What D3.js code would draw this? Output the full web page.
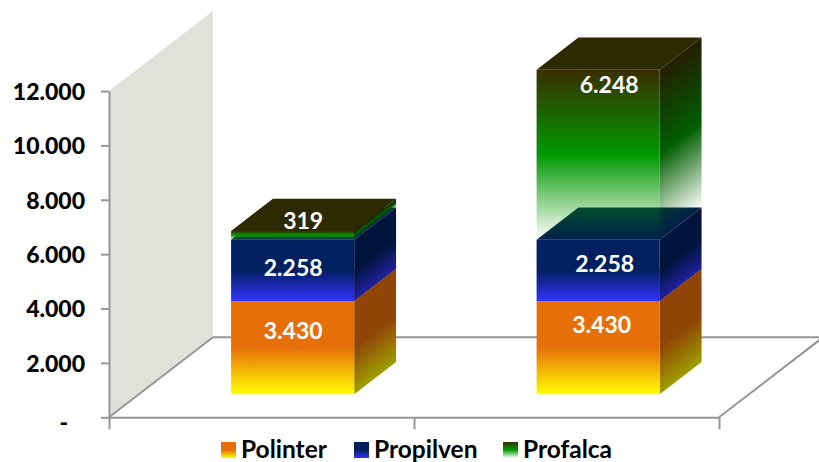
<!DOCTYPE html>
<html>
<head>
<meta charset="utf-8">
<script src="https://cdn.jsdelivr.net/npm/d3@7"></script>
<style>
  html, body { margin: 0; padding: 0; background: #fff; }
  svg { display: block; }
  text { font-family: Lato, Carlito, sans-serif; font-weight: 700; }
  .axis path, .axis line { stroke: #969696; stroke-width: 2; fill: none; }
  .axis text { fill: #000; font-size: 23px; font-weight: 900; }
</style>
</head>
<body>
<svg id="chart" width="819" height="462"></svg>
<script>
// values
const categories = ['A', 'B'];
const seriesNames = ['Polinter', 'Propilven', 'Profalca'];
const polinter = [3430, 3430];
const propilven = [2258, 2258];
const profalca = [319, 6248];
const yTicks = [0, 2000, 4000, 6000, 8000, 10000, 12000];

const seriesValues = [polinter, propilven, profalca];

// gradient stops per series, top to bottom of the face
const seriesStops = [
  [['0%', '#e76f0a', 1], ['50%', '#e76f0a', 1], ['100%', '#ffff00', 1]],
  [['0%', '#002060', 1], ['50%', '#002060', 1], ['100%', '#3333ff', 1]],
  [['0%', '#3a2e00', 1], ['50%', '#009900', 1], ['100%', '#009900', 0]],
];
const topFill = ['#a55a10', '#00204a', '#2d2900'];

const DEPTH_X = 104;
const DEPTH_Y = -80;
const SIDE_SHADE = 0.62;

const svg = d3.select('#chart');
const defs = svg.append('defs');

const xScale = d3.scaleBand().domain(categories).range([110, 721]).paddingInner(0.597).paddingOuter(0.2985);
const xTickScale = d3.scaleLinear().domain([0, categories.length]).range([109, 719]);
const yScale = d3.scaleLinear().domain([0, 12000]).range([417.3, 91]);
const zScale = d3.scaleLinear().domain([0, 1]).range([0, 1]);

// oblique projection: z runs from the front of the floor (0) to the wall (1)
const project = (x, v, z) => [x + zScale(z) * DEPTH_X, yScale(v) + zScale(z) * DEPTH_Y];
const poly = d3.line();
const closed = (pts) => `${poly(pts)}Z`;

const shade = (c) => {
  const { r, g, b } = d3.rgb(c);
  return d3.rgb(r * SIDE_SHADE, g * SIDE_SHADE, b * SIDE_SHADE).formatHex();
};

function addStops(grad, stops, colorFn) {
  stops.forEach(([offset, color, opacity]) => {
    grad.append('stop')
      .attr('offset', offset)
      .attr('stop-color', colorFn ? colorFn(color) : color)
      .attr('stop-opacity', opacity);
  });
}

// shared front gradients, also used by the legend
seriesNames.forEach((name, i) => {
  const grad = defs.append('linearGradient')
    .attr('id', `front-${i}`)
    .attr('x1', 0).attr('y1', 0).attr('x2', 0).attr('y2', 1);
  addStops(grad, seriesStops[i]);
});

// wall and floor
const WALL_MAX = 12000;
svg.append('path')
  .attr('d', closed([project(109, 0, 0), project(109, WALL_MAX, 0), project(109, WALL_MAX, 1), project(109, 0, 1)]))
  .attr('fill', '#e1e1da');

const floorLines = [
  [project(109, 0, 0), project(109, 0, 1)],
  [project(109, 0, 1), project(719, 0, 1)],
  [project(719, 0, 0), project(719, 0, 1)],
];
svg.append('g').selectAll('path')
  .data(floorLines)
  .join('path')
  .attr('d', (d) => poly(d))
  .attr('fill', 'none')
  .attr('stroke', '#969696')
  .attr('stroke-width', 2);

// axes
const yFormat = d3.formatLocale({ decimal: ',', thousands: '.', grouping: [3], currency: ['', ''] }).format(',');
const yAxis = svg.append('g')
  .attr('class', 'axis')
  .attr('transform', 'translate(109,1)')
  .call(d3.axisLeft(yScale)
    .tickValues(yTicks)
    .tickSize(8)
    .tickSizeOuter(0)
    .tickPadding(16)
    .tickFormat((d) => (d === 0 ? '-' : yFormat(d))));
yAxis.selectAll('.tick line, path').attr('transform', 'translate(0,-1)');
// the zero dash hangs further left and lower, accounting style
yAxis.selectAll('.tick text').filter((d) => d === 0).attr('dx', -17).attr('dy', '0.55em');

svg.append('g')
  .attr('class', 'axis')
  .attr('transform', 'translate(0,417.3)')
  .call(d3.axisBottom(xTickScale)
    .tickValues(d3.range(categories.length + 1))
    .tickSize(12)
    .tickSizeOuter(0)
    .tickFormat(''));

// bars sit part way into the floor
const Z_NEAR = 0.2875;
const Z_FAR = 0.69;
const barsG = svg.append('g');
const labelsG = svg.append('g');

// labels in the source were dragged around, not centred
const LABEL_NUDGE = [
  [[0.5, -17], [0.5, -3], [10.5, -15]],
  [[3.5, -23], [6.5, -7], [11, -70]],
];

categories.forEach((cat, c) => {
  const x0 = xScale(cat);
  const x1 = x0 + xScale.bandwidth();
  let base = 0;

  seriesNames.forEach((name, s) => {
    const v = seriesValues[s][c];
    const top = base + v;
    const g = barsG.append('g').attr('class', `bar-${c}-${s}`);

    const fl = project(x0, base, Z_NEAR);
    const fr = project(x1, base, Z_NEAR);
    const tl = project(x0, top, Z_NEAR);
    const tr = project(x1, top, Z_NEAR);
    const br = project(x1, base, Z_FAR);
    const tbr = project(x1, top, Z_FAR);
    const tbl = project(x0, top, Z_FAR);

    // side gradient sheared so its bands follow the side's slope
    const k = (tbr[1] - tr[1]) / (tbr[0] - tr[0]);
    const sideId = `side-${c}-${s}`;
    const sideGrad = defs.append('linearGradient')
      .attr('id', sideId)
      .attr('gradientUnits', 'userSpaceOnUse')
      .attr('x1', 0).attr('y1', tr[1]).attr('x2', 0).attr('y2', fr[1])
      .attr('gradientTransform', `matrix(1,${k},0,1,${tr[0]},0)`);
    addStops(sideGrad, seriesStops[s], shade);

    g.append('path').attr('d', closed([tl, tr, tbr, tbl])).attr('fill', topFill[s]);
    g.append('path').attr('d', closed([fr, br, tbr, tr])).attr('fill', `url(#${sideId})`);
    g.append('path').attr('d', closed([fl, fr, tr, tl])).attr('fill', `url(#front-${s})`);

    const [dx, dy] = LABEL_NUDGE[c][s];
    labelsG.append('text')
      .attr('x', (x0 + x1) / 2 + Z_NEAR * DEPTH_X + dx)
      .attr('y', (tl[1] + fl[1]) / 2 + dy)
      .attr('dy', '0.36em')
      .attr('text-anchor', 'middle')
      .attr('fill', '#fff')
      .attr('font-size', 23)
      .text(yFormat(v));

    base = top;
  });
});

// legend
const legendX = d3.scaleOrdinal().domain(seriesNames).range([221, 354, 503]);
const legend = svg.append('g').selectAll('g')
  .data(seriesNames)
  .join('g')
  .attr('transform', (d) => `translate(${legendX(d)},442)`);

legend.append('rect')
  .attr('width', 15)
  .attr('height', 16)
  .attr('fill', (d, i) => `url(#front-${i})`);

legend.append('text')
  .attr('x', 20)
  .attr('y', 16)
  .attr('font-size', 24.5)
  .attr('fill', '#000')
  .text((d) => d);
</script>
</body>
</html>
